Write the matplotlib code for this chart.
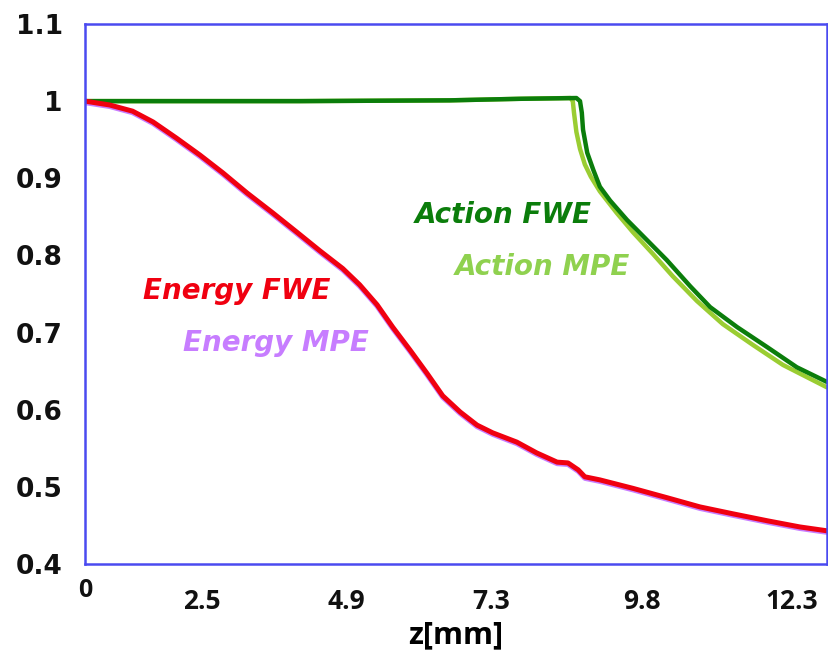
import matplotlib
matplotlib.use("Agg")
import matplotlib.pyplot as plt

# normalised energy along z (FWE and MPE almost coincide)
z_energy = [0.56, 0.97, 1.35, 1.69, 2.08, 2.47, 2.85, 3.25, 3.68, 4.08, 4.46, 4.84,
            5.12, 5.41, 5.67, 5.96, 6.24, 6.50, 6.79, 7.07, 7.33, 7.73, 8.06, 8.40,
            8.58, 8.75, 8.86, 9.11, 9.66, 10.22, 10.77, 11.32, 11.89, 12.43, 12.88]
energy_fwe = [1.000, 0.995, 0.987, 0.973, 0.952, 0.930, 0.907, 0.881, 0.855, 0.830, 0.806, 0.783,
              0.762, 0.736, 0.707, 0.677, 0.647, 0.618, 0.597, 0.580, 0.570, 0.558, 0.544, 0.532,
              0.531, 0.522, 0.513, 0.509, 0.498, 0.486, 0.474, 0.465, 0.456, 0.448, 0.443]
energy_mpe = [v - 0.002 for v in energy_fwe]

# normalised action along z
z_action_fwe = [0.56, 4.13, 6.62, 7.78, 8.72, 8.78, 8.81, 8.83, 8.90, 9.00, 9.11, 9.28, 9.56,
                9.89, 10.22, 10.61, 10.94, 11.39, 11.89, 12.38, 12.88]
action_fwe = [1.000, 1.000, 1.001, 1.003, 1.004, 1.000, 0.985, 0.963, 0.933, 0.911, 0.889, 0.871, 0.846,
              0.820, 0.794, 0.760, 0.733, 0.707, 0.681, 0.655, 0.636]
z_action_mpe = [0.56, 4.13, 6.62, 7.78, 8.62, 8.66, 8.68, 8.72, 8.78, 8.86, 8.96, 9.11, 9.39, 9.66,
                9.99, 10.32, 10.72, 11.15, 11.65, 12.15, 12.88]
action_mpe = [1.000, 1.000, 1.001, 1.003, 1.004, 1.000, 0.985, 0.960, 0.938, 0.918, 0.902, 0.883, 0.855, 0.830,
              0.802, 0.773, 0.741, 0.711, 0.684, 0.658, 0.629]

y_ticks = [0.4, 0.5, 0.6, 0.7, 0.8, 0.9, 1.0, 1.1]
y_labels = ["0.4", "0.5", "0.6", "0.7", "0.8", "0.9", "1", "1.1"]
x_ticks = [2.5, 4.9, 7.3, 9.8, 12.3]
x_labels = ["2.5", "4.9", "7.3", "9.8", "12.3"]

fig = plt.figure(figsize=(8.29, 6.66), dpi=100)
ax = fig.add_axes([0.1025, 0.1532, 0.895, 0.8108])

ax.plot(z_action_mpe, action_mpe, color="#9acd32", lw=3.2, solid_capstyle="round", solid_joinstyle="round")
ax.plot(z_action_fwe, action_fwe, color="#0b7d0b", lw=3.2, solid_capstyle="round", solid_joinstyle="round")
ax.plot(z_energy, energy_mpe, color="#c77dff", lw=3.6, solid_capstyle="round", solid_joinstyle="round")
ax.plot(z_energy, energy_fwe, color="#f00010", lw=3.6, solid_capstyle="round", solid_joinstyle="round")

ax.set_xlim(0.56, 12.88)
ax.set_ylim(0.4, 1.1)

for s in ax.spines.values():
    s.set_color("#4a4af0")
    s.set_linewidth(1.8)

ax.set_yticks(y_ticks)
ax.set_yticklabels(y_labels, fontsize=19, fontweight="bold", color="#111111")
ax.set_xticks(x_ticks)
ax.set_xticklabels(x_labels, fontsize=19, fontweight="bold", color="#111111",
                   family="Open Sans")
ax.tick_params(axis="y", length=0, pad=16)
ax.tick_params(axis="x", length=0, pad=17)
ax.text(0, -0.026, "0", transform=ax.transAxes, ha="center", va="top",
        fontsize=18, fontweight="bold", color="#111111", family="Open Sans")

ax.set_xlabel("z[mm]", fontsize=22, fontweight="bold", family="Open Sans", labelpad=4)

# curve names
lab = dict(fontsize=20, fontweight="bold", style="italic", transform=ax.transAxes,
           ha="left", va="baseline")
ax.text(0.445, 0.631, "Action FWE", color="#0b7d0b", **lab)
ax.text(0.499, 0.535, "Action MPE", color="#8fd14f", **lab)
ax.text(0.078, 0.491, "Energy FWE", color="#f00010", **lab)
ax.text(0.132, 0.394, "Energy MPE", color="#c77dff", **lab)

fig.savefig("out.png", dpi=100)
